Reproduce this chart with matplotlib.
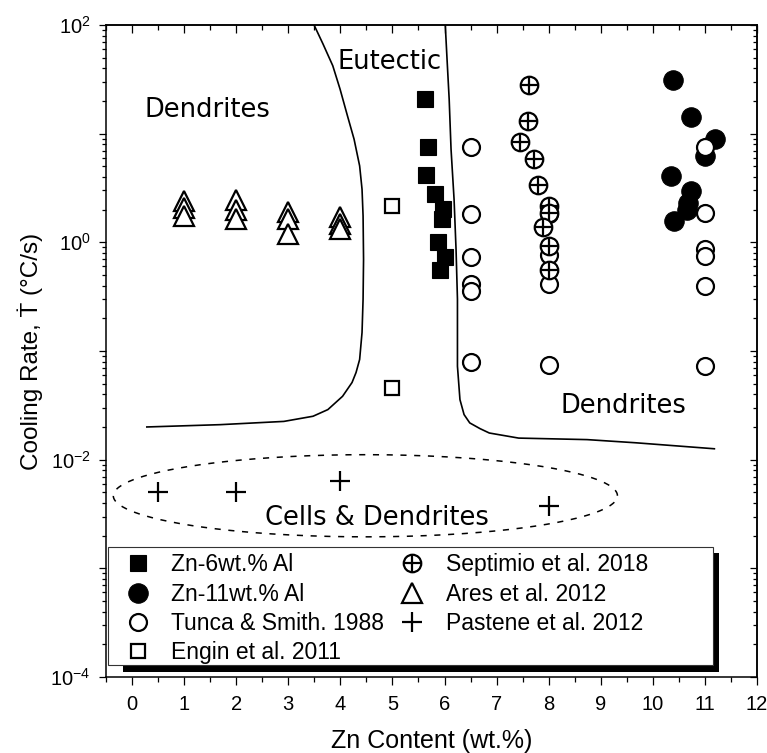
import numpy as np
import matplotlib
matplotlib.use("Agg")
import matplotlib.pyplot as plt
from matplotlib.lines import Line2D
from matplotlib.patches import Rectangle
from matplotlib.legend_handler import HandlerTuple
from matplotlib.ticker import LogLocator, FixedLocator, FuncFormatter, NullFormatter, MultipleLocator

plt.rcParams['font.family'] = ['Liberation Sans', 'DejaVu Sans']
plt.rcParams['mathtext.fontset'] = 'custom'
plt.rcParams['mathtext.rm'] = 'Liberation Sans'
plt.rcParams['mathtext.it'] = 'Liberation Sans:italic'

# ---------------- data ----------------
zn6_x = [5.63, 5.69, 5.65, 5.82, 5.97, 5.95, 5.88, 6.01, 5.91]
zn6_y = [20.8, 7.55, 4.17, 2.77, 2.01, 1.63, 1.01, 0.74, 0.56]

zn11_x = [10.38, 10.73, 11.19, 11.0, 10.34, 10.73, 10.68, 10.65, 10.41]
zn11_y = [31.1, 14.3, 8.9, 6.24, 4.08, 2.97, 2.32, 2.0, 1.57]

tunca_x = [6.5, 6.5, 6.5, 6.5, 6.5, 6.5, 8.0, 8.0, 8.0, 8.0, 11.0, 11.0, 11.0, 11.0, 11.0, 11.0]
tunca_y = [7.46, 1.81, 0.74, 0.41, 0.356, 0.080, 1.81, 0.77, 0.41, 0.075, 7.46, 1.85, 0.86, 0.75, 0.395, 0.073]

engin_x = [5.0, 5.0]
engin_y = [2.16, 0.046]

sept_x = [7.63, 7.61, 7.44, 7.71, 7.79, 8.01, 8.0, 7.90, 8.0, 8.0]
sept_y = [28.0, 13.1, 8.3, 5.82, 3.35, 2.16, 1.88, 1.38, 0.925, 0.56]

ares_x = [1, 1, 1, 2, 2, 2, 3, 3, 3, 4, 4, 4]
ares_y = [2.40, 2.09, 1.75, 2.45, 1.99, 1.63, 1.90, 1.63, 1.19, 1.71, 1.47, 1.32]

pastene_x = [0.5, 2.0, 4.0, 8.0]
pastene_y = [0.00504, 0.00504, 0.0063, 0.00377]

# boundary between dendrites and eutectic (left)
left_x = [3.495, 3.667, 3.854, 3.994, 4.136, 4.263, 4.370, 4.416, 4.436, 4.445, 4.436,
          4.416, 4.370, 4.301, 4.224, 4.042, 3.760, 3.475, 2.915, 1.690, 0.284]
left_y = [100, 66.8, 42.2, 25.7, 14.6, 8.9, 5.05, 3.08, 1.75, 0.697, 0.30,
          0.148, 0.0836, 0.0634, 0.0513, 0.0383, 0.0289, 0.0251, 0.0225, 0.0210, 0.0200]
# boundary (right)
right_x = [6.014, 6.048, 6.089, 6.125, 6.183, 6.221, 6.248, 6.248, 6.296, 6.375, 6.484,
           6.682, 6.859, 7.423, 8.737, 9.677, 11.181]
right_y = [100, 48.6, 20.8, 7.19, 2.49, 0.861, 0.30, 0.0724, 0.0357, 0.0260, 0.0218,
           0.0193, 0.0176, 0.0158, 0.0153, 0.0143, 0.0126]

# dashed ellipse (centre x, centre log10 y, semi-axes)
ell_cx, ell_cly, ell_ax, ell_bly = 4.48, -2.332, 4.84, 0.378

region_labels = ["Dendrites", "Eutectic", "Dendrites", "Cells & Dendrites"]
region_x = [1.45, 4.95, 9.43, 4.70]
region_y = [14.2, 39.3, 0.0271, 0.00252]

x_ticks = list(range(0, 13))

# ---------------- figure ----------------
fig = plt.figure(figsize=(7.67, 7.53), dpi=100)
ax = fig.add_axes([0.1382, 0.1009, 0.8488, 0.8659])
ax.set_yscale('log')
ax.set_xlim(-0.5, 12)
ax.set_ylim(1e-4, 1e2)

lw_curve = 1.2
ax.plot(left_x, left_y, color='k', lw=lw_curve, zorder=2)
ax.plot(right_x, right_y, color='k', lw=lw_curve, zorder=2)

t = np.linspace(0, 2 * np.pi, 400)
ax.plot(ell_cx + ell_ax * np.cos(t), 10 ** (ell_cly + ell_bly * np.sin(t)),
        color='k', lw=1.1, ls=(0, (4, 5)), zorder=2)

mew = 1.6
kw_sq = dict(ls='none', marker='s', ms=12, mfc='k', mec='k', mew=0.8)
kw_fc = dict(ls='none', marker='o', ms=14, mfc='k', mec='k', mew=0.8)
kw_oc = dict(ls='none', marker='o', ms=12.2, mfc='white', mec='k', mew=mew)
kw_os = dict(ls='none', marker='s', ms=10.5, mfc='white', mec='k', mew=mew)
kw_sc = dict(ls='none', marker='o', ms=12.6, mfc='white', mec='k', mew=mew)
kw_sp = dict(ls='none', marker='+', ms=12.6, mec='k', mew=mew)
kw_tr = dict(ls='none', marker='^', ms=14.5, mfc='white', mec='k', mew=mew)
kw_pl = dict(ls='none', marker='+', ms=14.5, mec='k', mew=mew)

ax.plot(zn6_x, zn6_y, zorder=3, **kw_sq)
ax.plot(zn11_x, zn11_y, zorder=3, **kw_fc)
ax.plot(tunca_x, tunca_y, zorder=3, **kw_oc)
ax.plot(engin_x, engin_y, zorder=3, **kw_os)
for xi, yi in zip(sept_x, sept_y):
    ax.plot([xi], [yi], zorder=3, **kw_sc)
    ax.plot([xi], [yi], zorder=3, **kw_sp)
ax.plot(ares_x, ares_y, zorder=3, **kw_tr)
ax.plot(pastene_x, pastene_y, zorder=3, **kw_pl)

for lab, xx, yy in zip(region_labels, region_x, region_y):
    ax.text(xx, yy, lab, ha='center', va='baseline', fontsize=18.5,
            family=['DejaVu Sans'], zorder=4)

# ---------------- axes & ticks ----------------
for s in ax.spines.values():
    s.set_linewidth(1.1)

ax.xaxis.set_major_locator(FixedLocator(x_ticks))
ax.xaxis.set_minor_locator(MultipleLocator(0.5))
ax.set_xticklabels([str(v) for v in x_ticks])
ax.yaxis.set_major_locator(LogLocator(base=10, numticks=20))
ax.yaxis.set_minor_locator(LogLocator(base=10, subs=np.arange(2, 10), numticks=20))
ax.yaxis.set_minor_formatter(NullFormatter())

def yfmt(v, pos):
    e = int(round(np.log10(v)))
    if e % 2 == 0:
        return r'$\mathregular{10^{%d}}$' % e
    return ''
ax.yaxis.set_major_formatter(FuncFormatter(yfmt))

ax.tick_params(axis='x', which='major', direction='out', length=6, width=0.9,
               labelsize=14.5, pad=7)
ax.tick_params(axis='x', which='minor', direction='out', length=3.6, width=0.9)
ax.tick_params(axis='y', which='major', direction='out', length=5, width=0.9,
               labelsize=14.5, pad=6)
ax.tick_params(axis='y', which='minor', direction='out', length=3, width=0.9)

secx = ax.secondary_xaxis('top')
secx.xaxis.set_major_locator(FixedLocator(x_ticks))
secx.xaxis.set_minor_locator(MultipleLocator(0.5))
secx.tick_params(axis='x', which='major', direction='in', length=6, width=0.9, labeltop=False)
secx.tick_params(axis='x', which='minor', direction='in', length=3.6, width=0.9)
secx.spines['top'].set_linewidth(1.1)

secy = ax.secondary_yaxis('right')
secy.yaxis.set_major_locator(LogLocator(base=10, numticks=20))
secy.yaxis.set_minor_locator(LogLocator(base=10, subs=np.arange(2, 10), numticks=20))
secy.yaxis.set_minor_formatter(NullFormatter())
secy.tick_params(axis='y', which='major', direction='in', length=5, width=0.9, labelright=False)
secy.tick_params(axis='y', which='minor', direction='in', length=3, width=0.9)
secy.spines['right'].set_linewidth(1.1)

ax.set_xlabel('Zn Content (wt.%)', fontsize=18, labelpad=11)
ax.set_ylabel('Cooling Rate, Ṫ (°C/s)', fontsize=17.5, labelpad=5)

# ---------------- legend ----------------
ax.add_patch(Rectangle((0.0261, 0.0077), 0.9155, 0.1825, transform=ax.transAxes,
                       facecolor='k', edgecolor='none', zorder=8, clip_on=False))
ax.add_patch(Rectangle((0.0031, 0.0184), 0.9293, 0.1810, transform=ax.transAxes,
                       facecolor='white', edgecolor='#333333', lw=0.8, zorder=9, clip_on=False))

h_sq = Line2D([], [], **kw_sq)
h_fc = Line2D([], [], **kw_fc)
h_oc = Line2D([], [], **kw_oc)
h_os = Line2D([], [], **kw_os)
h_sc = Line2D([], [], **kw_sc)
h_sp = Line2D([], [], **kw_sp)
h_tr = Line2D([], [], **kw_tr)
h_pl = Line2D([], [], **kw_pl)

lkw = dict(frameon=False, loc='upper left', borderaxespad=0, borderpad=0,
           handlelength=1.6, handletextpad=0.65, labelspacing=0.28,
           prop={'family': ['Liberation Sans'], 'size': 16.5}, numpoints=1)
leg1 = ax.legend([h_sq, h_fc, h_oc, h_os],
                 ['Zn-6wt.% Al', 'Zn-11wt.% Al', 'Tunca & Smith. 1988', 'Engin et al. 2011'],
                 bbox_to_anchor=(0.021, 0.1899), **lkw)
leg1.set_zorder(10)
ax.add_artist(leg1)
leg2 = ax.legend([(h_sc, h_sp), h_tr, h_pl],
                 ['Septimio et al. 2018', 'Ares et al. 2012', 'Pastene et al. 2012'],
                 bbox_to_anchor=(0.4424, 0.1899),
                 handler_map={tuple: HandlerTuple(ndivide=1, pad=0)}, **lkw)
leg2.set_zorder(10)

fig.savefig('out.png', dpi=100)
